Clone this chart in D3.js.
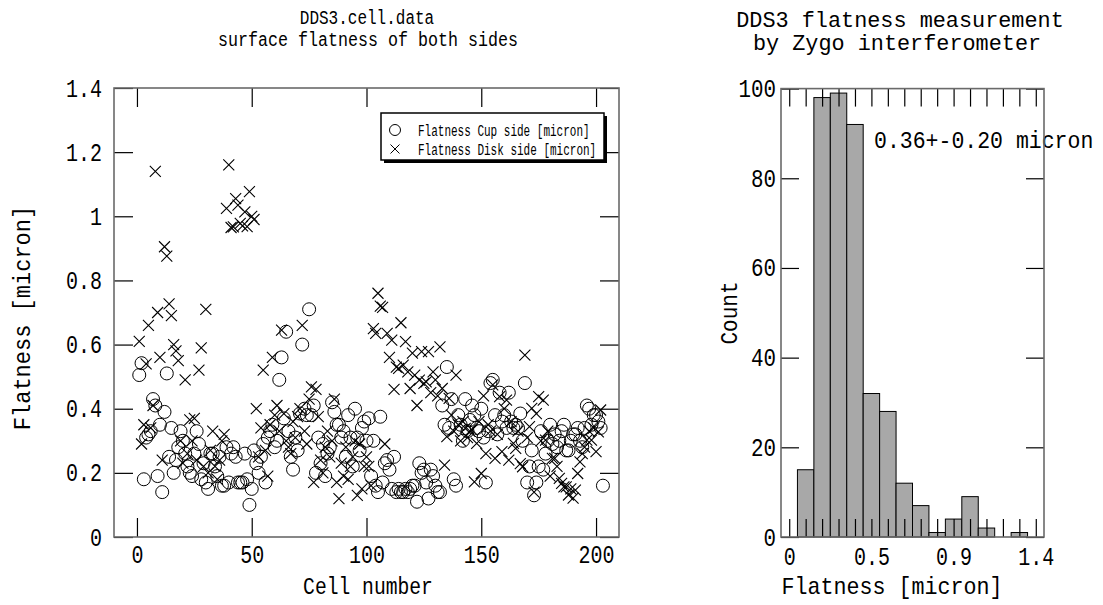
<!DOCTYPE html>
<html>
<head>
<meta charset="utf-8">
<script src="https://cdn.jsdelivr.net/npm/d3@7"></script>
<style>
  body { margin: 0; background: #fff; }
  svg { display: block; }
  text { font-family: "Liberation Mono", "DejaVu Sans Mono", monospace; fill: #000; }
</style>
</head>
<body>
<div id="chart"></div>
<script>
// cup side flatness, one value per cell starting at cell 1
var cupFlatness = [
  0.505, 0.542, 0.18, 0.31, 0.32, 0.33, 0.43, 0.41, 0.19, 0.35,
  0.14, 0.39, 0.51, 0.25, 0.34, 0.20, 0.24, 0.28, 0.33, 0.30,
  0.26, 0.22, 0.20, 0.19, 0.26, 0.33, 0.29, 0.18, 0.23, 0.17,
  0.15, 0.26, 0.26, 0.22, 0.19, 0.25, 0.16, 0.16, 0.28, 0.17,
  0.26, 0.28, 0.25, 0.17, 0.17, 0.17, 0.26, 0.18, 0.10, 0.15,
  0.27, 0.23, 0.20, 0.25, 0.29, 0.17, 0.31, 0.33, 0.35, 0.28,
  0.30, 0.49, 0.56, 0.37, 0.64, 0.33, 0.25, 0.21, 0.31, 0.27,
  0.385, 0.60, 0.40, 0.38, 0.71, 0.38, 0.41, 0.20, 0.31, 0.23,
  0.29, 0.19, 0.26, 0.28, 0.42, 0.39, 0.35, 0.35, 0.31, 0.33,
  0.25, 0.38, 0.31, 0.22, 0.40, 0.31, 0.27, 0.34, 0.36, 0.30,
  0.37, 0.19, 0.30, 0.16, 0.14, 0.375, 0.17, 0.23, 0.24, 0.21,
  0.15, 0.25, 0.14, 0.15, 0.14, 0.14, 0.15, 0.14, 0.15, 0.16,
  0.16, 0.11, 0.23, 0.20, 0.21, 0.17, 0.12, 0.21, 0.19, 0.16,
  0.14, 0.14, 0.41, 0.35, 0.53, 0.34, 0.43, 0.18, 0.16, 0.38,
  0.35, 0.30, 0.43, 0.33, 0.365, 0.41, 0.38, 0.34, 0.33, 0.40,
  0.31, 0.17, 0.33, 0.48, 0.49, 0.38, 0.32, 0.45, 0.36, 0.38,
  0.34, 0.45, 0.36, 0.34, 0.35, 0.34, 0.385, 0.30, 0.48, 0.17,
  0.22, 0.27, 0.13, 0.17, 0.22, 0.33, 0.21, 0.26, 0.30, 0.35,
  0.29, 0.32, 0.28, 0.30, 0.33, 0.35, 0.27, 0.27, 0.30, 0.32,
  0.32, 0.34, 0.30, 0.28, 0.34, 0.41, 0.40, 0.35, 0.38, 0.38,
  0.36, 0.34, 0.16
];

// disk side flatness, one value per cell starting at cell 1
var diskFlatness = [
  0.61, 0.29, 0.35, 0.54, 0.66, 0.34, 0.41, 1.14, 0.70, 0.56,
  0.24, 0.905, 0.876, 0.727, 0.69, 0.60, 0.58, 0.55, 0.30, 0.23,
  0.49, 0.26, 0.365, 0.30, 0.37, 0.24, 0.52, 0.59, 0.22, 0.71,
  0.20, 0.27, 0.33, 0.22, 0.18, 0.24, 0.30, 0.32, 1.025, 1.16,
  0.965, 0.967, 1.055, 1.035, 0.978, 0.97, 1.014, 0.968, 1.077, 1.0,
  0.99, 0.40, 0.25, 0.34, 0.52, 0.27, 0.19, 0.35, 0.56, 0.38,
  0.41, 0.33, 0.645, 0.385, 0.30, 0.28, 0.26, 0.36, 0.31, 0.375,
  0.40, 0.66, 0.33, 0.29, 0.43, 0.468, 0.17, 0.46, 0.375, 0.24,
  0.20, 0.28, 0.33, 0.25, 0.30, 0.43, 0.17, 0.12, 0.23, 0.19,
  0.28, 0.18, 0.22, 0.25, 0.30, 0.13, 0.29, 0.15, 0.22, 0.25,
  0.22, 0.16, 0.65, 0.635, 0.76, 0.72, 0.716, 0.29, 0.635, 0.56,
  0.614, 0.46, 0.53, 0.526, 0.668, 0.536, 0.609, 0.515, 0.463, 0.573,
  0.505, 0.41, 0.489, 0.578, 0.479, 0.484, 0.578, 0.45, 0.515, 0.49,
  0.44, 0.593, 0.463, 0.224, 0.313, 0.432, 0.38, 0.33, 0.505, 0.35,
  0.30, 0.36, 0.339, 0.31, 0.33, 0.334, 0.172, 0.292, 0.36, 0.198,
  0.44, 0.26, 0.35, 0.33, 0.474, 0.245, 0.32, 0.438, 0.266, 0.40,
  0.427, 0.24, 0.36, 0.292, 0.276, 0.33, 0.229, 0.219, 0.567, 0.31,
  0.344, 0.401, 0.14, 0.385, 0.438, 0.30, 0.427, 0.302, 0.33, 0.19,
  0.245, 0.245, 0.22, 0.183, 0.167, 0.156, 0.156, 0.131, 0.15, 0.121,
  0.146, 0.198, 0.234, 0.26, 0.28, 0.302, 0.33, 0.302, 0.34, 0.266,
  0.328, 0.396
];

var cellTicks = [0, 50, 100, 150, 200];
var flatTicks = [0, 0.2, 0.4, 0.6, 0.8, 1, 1.2, 1.4];

// histogram: 16 bins of width 1.4/15 centred on 0 .. 1.4
var binCounts = [0, 15, 98, 99, 92, 32, 28, 12, 7, 1, 4, 9, 2, 0, 1, 0];
var binLabels = {0: "0", 5: "0.5", 10: "0.9", 15: "1.4"};
var countTicks = [0, 20, 40, 60, 80, 100];
var statText = "0.36+-0.20 micron";

var frameColor = "#6a6a6a";

// squeeze mono text so it looks like the narrow gothic font of the original
function squeeze(sel, cw) {
    sel.each(function() {
        var t = d3.select(this);
        var n = t.text().length;
        if (n) t.attr("textLength", n * cw).attr("lengthAdjust", "spacingAndGlyphs");
    });
}

function addText(g, str, x, y, size, cw, anchor, rotate) {
    var t = g.append("text")
        .attr("font-size", size)
        .attr("text-anchor", anchor || "middle")
        .text(str);
    if (rotate) t.attr("transform", "translate(" + [x, y] + ") rotate(-90)");
    else t.attr("x", x).attr("y", y);
    squeeze(t, cw);
    return t;
}

var svg = d3.select("#chart").append("svg")
    .attr("width", 1103).attr("height", 605);

/* ---------- left: scatter of cell flatness ---------- */
var x = d3.scaleLinear().domain([-10, 210]).range([114, 619]);
var y = d3.scaleLinear().domain([0, 1.4]).range([537, 88]);

var scat = svg.append("g");

function styleAxis(g, size, cw) {
    g.select(".domain").remove();
    g.selectAll(".tick line").attr("stroke", "#000").attr("stroke-width", 1.2);
    g.selectAll("text").attr("font-size", size).attr("font-family", null);
    squeeze(g.selectAll("text"), cw);
}

scat.append("g")
    .attr("transform", "translate(0," + y(0) + ")")
    .call(d3.axisBottom(x).tickValues(cellTicks).tickSize(-19).tickPadding(8))
    .call(styleAxis, 25, 12);
scat.append("g")
    .attr("transform", "translate(0," + y(1.4) + ")")
    .call(d3.axisTop(x).tickValues(cellTicks).tickSize(-19).tickFormat(""))
    .call(styleAxis, 25, 12);
scat.append("g")
    .attr("transform", "translate(" + x(-10) + ",0)")
    .call(d3.axisLeft(y).tickValues(flatTicks).tickSize(-19).tickPadding(12).tickFormat(d3.format("~g")))
    .call(styleAxis, 25, 12);
scat.append("g")
    .attr("transform", "translate(" + x(210) + ",0)")
    .call(d3.axisRight(y).tickValues(flatTicks).tickSize(-19).tickFormat(""))
    .call(styleAxis, 25, 12);

scat.append("rect")
    .attr("x", x(-10)).attr("y", y(1.4))
    .attr("width", x(210) - x(-10)).attr("height", y(0) - y(1.4))
    .attr("fill", "none").attr("stroke", frameColor).attr("stroke-width", 1.6);

// cup side: open circles
scat.selectAll(".cup")
    .data(cupFlatness).enter().append("circle")
    .attr("class", "cup")
    .attr("cx", function(d, i) { return x(i + 1); })
    .attr("cy", function(d) { return y(d); })
    .attr("r", 6.5)
    .attr("fill", "none").attr("stroke", "#000").attr("stroke-width", 1);

// disk side: crosses
var crossPath = "M-5.5,-5.5L5.5,5.5M-5.5,5.5L5.5,-5.5";
scat.selectAll(".disk")
    .data(diskFlatness).enter().append("path")
    .attr("class", "disk")
    .attr("d", crossPath)
    .attr("transform", function(d, i) { return "translate(" + [x(i + 1), y(d)] + ")"; })
    .attr("fill", "none").attr("stroke", "#000").attr("stroke-width", 1.1);

// legend with drop shadow
var leg = scat.append("g").attr("transform", "translate(381,113)");
leg.append("rect").attr("x", 3).attr("y", 3).attr("width", 223).attr("height", 47).attr("fill", "#000");
leg.append("rect").attr("width", 223).attr("height", 47)
    .attr("fill", "#fff").attr("stroke", "#000").attr("stroke-width", 1.5);
leg.append("circle").attr("cx", 14).attr("cy", 17).attr("r", 5.5)
    .attr("fill", "none").attr("stroke", "#000");
leg.append("path").attr("d", "M-4.5,-4.5L4.5,4.5M-4.5,4.5L4.5,-4.5")
    .attr("transform", "translate(14,36)").attr("stroke", "#000").attr("fill", "none");
addText(leg, "Flatness Cup side [micron]", 37, 23, 16, 6.6, "start");
addText(leg, "Flatness Disk side [micron]", 37, 42, 16, 6.6, "start");

addText(svg, "DDS3.cell.data", 367, 24, 20, 9.6);
addText(svg, "surface flatness of both sides", 368, 46, 20, 10);
addText(svg, "Cell number", 368, 594, 24, 11.8);
addText(svg, "Flatness [micron]", 30, 318, 24, 13.2, "middle", true);

/* ---------- right: histogram ---------- */
var xh = d3.scaleLinear().domain([-0.5, 15.5]).range([781, 1044]);
var yh = d3.scaleLinear().domain([0, 100]).range([537, 88.6]);
var hist = svg.append("g");

var bins = binCounts.map(function(c, i) { return {bin: i, count: c}; })
    .filter(function(d) { return d.count > 0; });

hist.selectAll(".bar")
    .data(bins).enter().append("rect")
    .attr("class", "bar")
    .attr("x", function(d) { return xh(d.bin - 0.5); })
    .attr("width", function(d) { return xh(d.bin + 0.5) - xh(d.bin - 0.5); })
    .attr("y", function(d) { return yh(d.count); })
    .attr("height", function(d) { return yh(0) - yh(d.count); })
    .attr("fill", "#a8a8a8").attr("stroke", "#000").attr("stroke-width", 1);

var binIdx = binCounts.map(function(c, i) { return i; });

addText(hist, statText, 874, 148, 24, 12.9, "start");

hist.append("g")
    .attr("transform", "translate(0," + yh(0) + ")")
    .call(d3.axisBottom(xh).tickValues(binIdx).tickSize(-18).tickPadding(10)
        .tickFormat(function(d) { return binLabels[d] || ""; }))
    .call(styleAxis, 25, 12);
hist.append("g")
    .attr("transform", "translate(0," + yh(100) + ")")
    .call(d3.axisTop(xh).tickValues(binIdx).tickSize(-18).tickFormat(""))
    .call(styleAxis, 25, 12);
hist.append("g")
    .attr("transform", "translate(" + xh(-0.5) + ",0)")
    .call(d3.axisLeft(yh).tickValues(countTicks).tickSize(-18).tickPadding(5))
    .call(styleAxis, 25, 12.5);
hist.append("g")
    .attr("transform", "translate(" + xh(15.5) + ",0)")
    .call(d3.axisRight(yh).tickValues(countTicks).tickSize(-18).tickFormat(""))
    .call(styleAxis, 25, 12);

hist.append("rect")
    .attr("x", xh(-0.5)).attr("y", yh(100))
    .attr("width", xh(15.5) - xh(-0.5)).attr("height", yh(0) - yh(100))
    .attr("fill", "none").attr("stroke", frameColor).attr("stroke-width", 1.6);

addText(svg, "DDS3 flatness measurement", 900, 27, 22, 13.1);
addText(svg, "by Zygo interferometer", 897, 50, 22, 13.1);
addText(svg, "Flatness [micron]", 892, 594, 24, 13);
addText(svg, "Count", 737, 313, 24, 12.6, "middle", true);
</script>
</body>
</html>
